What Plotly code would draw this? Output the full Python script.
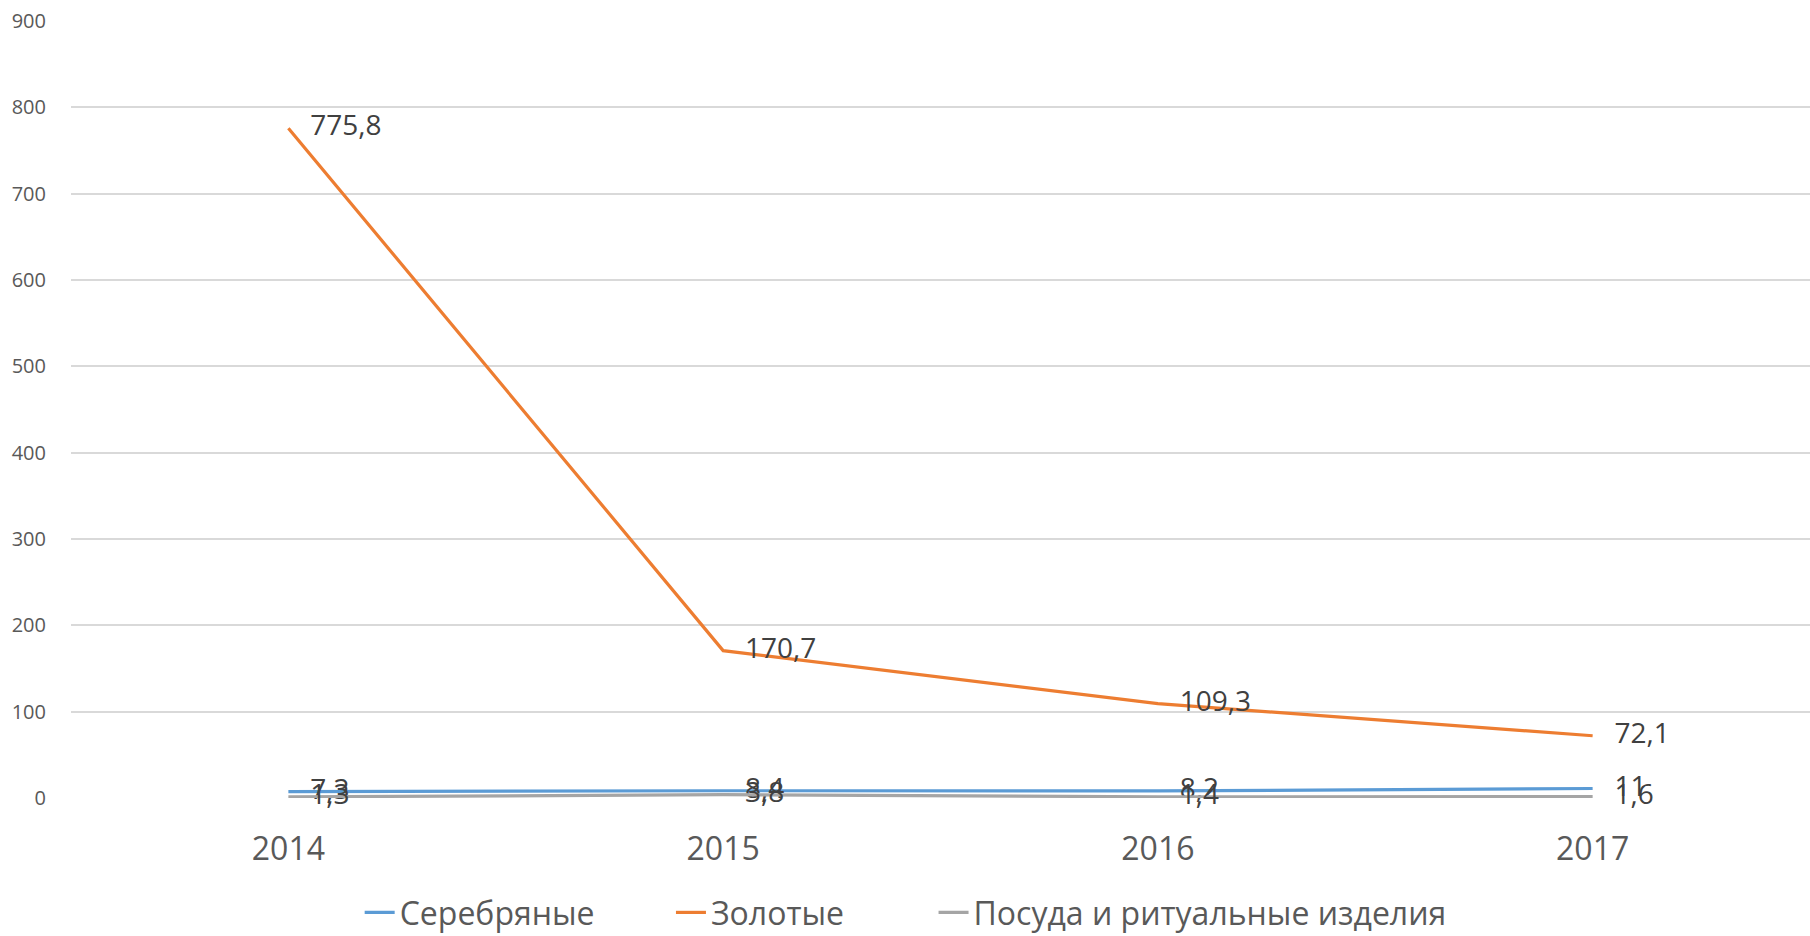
import plotly.graph_objects as go

# Годы и значения по видам изделий
years = ["2014", "2015", "2016", "2017"]
silver = [7.3, 8.4, 8.2, 11]
gold = [775.8, 170.7, 109.3, 72.1]
ware = [1.3, 3.8, 1.4, 1.6]

series_names = ["Серебряные", "Золотые", "Посуда и ритуальные изделия"]
colors = ["#5B9BD5", "#ED7D31", "#A5A5A5"]

FONT = "Open Sans"
legend_ids = ["legend", "legend2", "legend3"]
legend_x = [0.166, 0.345, 0.496]


def fmt(v):
    s = f"{v:g}"
    return s.replace(".", ",")


fig = go.Figure()
for name, vals, col, lg in zip(series_names, [silver, gold, ware], colors, legend_ids):
    fig.add_trace(go.Scatter(
        x=years, y=vals, name=name, legend=lg,
        mode="lines+text",
        line=dict(color=col, width=3.2),
        text=["   " + fmt(v) for v in vals],
        textposition="middle right",
        textfont=dict(family=FONT, size=28, color="#404040"),
        cliponaxis=False,
    ))

legend_style = dict(
    orientation="h", xanchor="left",
    yref="container", y=0.025, yanchor="middle",
    font=dict(family=FONT, size=32, color="#595959"),
    itemwidth=30, bgcolor="rgba(0,0,0,0)",
)

fig.update_layout(
    width=1810, height=936,
    paper_bgcolor="white", plot_bgcolor="white",
    margin=dict(l=71, r=0, t=21, b=138, autoexpand=False),
    font=dict(family=FONT, color="#595959"),
    showlegend=True,
    legend=dict(x=legend_x[0], **legend_style),
    legend2=dict(x=legend_x[1], **legend_style),
    legend3=dict(x=legend_x[2], **legend_style),
    xaxis=dict(
        type="category", range=[-0.5, 3.5], automargin=False,
        showgrid=False, zeroline=False, showline=False,
        ticks="", tickfont=dict(family=FONT, size=32, color="#595959"),
        ticklabelstandoff=29,
    ),
    yaxis=dict(
        range=[0, 900], dtick=100, automargin=False,
        showgrid=True, gridcolor="#D9D9D9", gridwidth=1.5,
        zeroline=False, showline=False, ticks="",
        tickfont=dict(family=FONT, size=20, color="#595959"),
        ticklabelstandoff=24,
    ),
)

fig.write_html("out.html")
